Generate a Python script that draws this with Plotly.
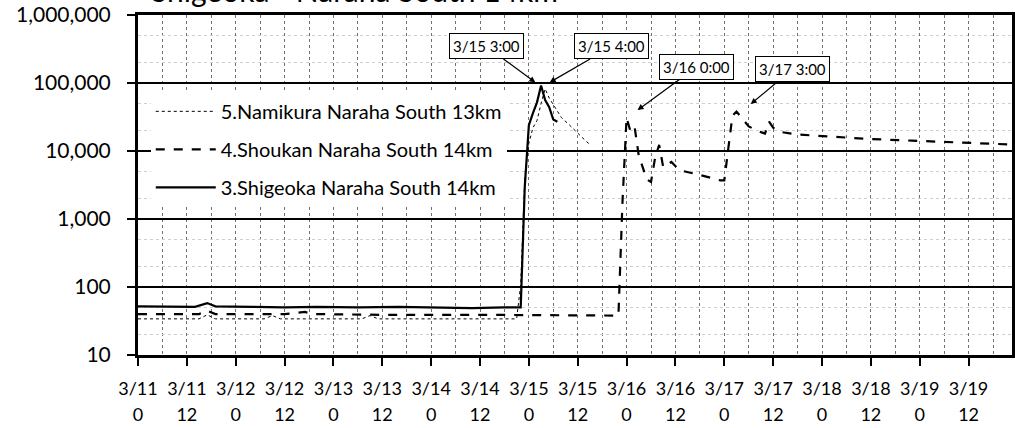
import math
import plotly.graph_objects as go
import pandas as pd

# ---------------- data ----------------
shigeoka_t = ["2011-03-11 00:00", "2011-03-11 08:00", "2011-03-11 14:00", "2011-03-11 17:00",
              "2011-03-11 19:00", "2011-03-12 04:00", "2011-03-12 12:00", "2011-03-12 20:00",
              "2011-03-13 06:00", "2011-03-13 16:00", "2011-03-14 02:00", "2011-03-14 10:00",
              "2011-03-14 18:00", "2011-03-14 22:00", "2011-03-14 23:00", "2011-03-15 00:00",
              "2011-03-15 01:00", "2011-03-15 02:00", "2011-03-15 03:00", "2011-03-15 04:00",
              "2011-03-15 05:00", "2011-03-15 06:00", "2011-03-15 07:00"]
shigeoka_v = [52, 51, 51, 58, 52, 51, 50, 51, 50, 51, 50, 49, 50, 50, 3000, 24000,
              36000, 52000, 92000, 56000, 44000, 29000, 27000]

namikura_t = ["2011-03-11 00:00", "2011-03-11 15:00", "2011-03-11 17:00", "2011-03-11 19:00",
              "2011-03-12 07:00", "2011-03-12 09:00", "2011-03-12 11:00", "2011-03-13 07:00",
              "2011-03-13 09:00", "2011-03-13 11:00", "2011-03-14 21:00", "2011-03-14 22:00",
              "2011-03-14 23:00", "2011-03-15 00:00", "2011-03-15 01:00", "2011-03-15 02:00",
              "2011-03-15 03:00", "2011-03-15 04:00", "2011-03-15 05:00", "2011-03-15 06:00",
              "2011-03-15 07:00", "2011-03-15 08:00", "2011-03-15 10:00", "2011-03-15 12:00",
              "2011-03-15 14:00", "2011-03-15 15:00"]
namikura_v = [34, 34, 39, 34, 34, 38, 34, 34, 38, 34, 34, 110, 4000, 13000, 22000, 28000,
              50000, 82000, 60000, 48000, 38000, 31000, 24000, 18000, 14000, 12500]

shoukan_t = ["2011-03-11 00:00", "2011-03-11 15:00", "2011-03-11 17:00", "2011-03-11 19:00",
             "2011-03-12 12:00", "2011-03-12 17:00", "2011-03-12 19:00", "2011-03-13 12:00",
             "2011-03-14 12:00", "2011-03-15 12:00", "2011-03-15 22:00", "2011-03-15 23:00",
             "2011-03-16 00:00", "2011-03-16 01:00", "2011-03-16 02:00", "2011-03-16 03:00",
             "2011-03-16 04:00", "2011-03-16 05:00", "2011-03-16 06:00", "2011-03-16 07:00",
             "2011-03-16 08:00", "2011-03-16 09:00", "2011-03-16 11:00", "2011-03-16 13:00",
             "2011-03-16 18:00", "2011-03-16 23:00", "2011-03-17 00:00", "2011-03-17 01:00",
             "2011-03-17 02:00", "2011-03-17 03:00", "2011-03-17 05:00", "2011-03-17 06:00",
             "2011-03-17 08:00", "2011-03-17 10:00", "2011-03-17 11:00", "2011-03-17 12:00",
             "2011-03-17 14:00", "2011-03-17 18:00", "2011-03-18 02:00", "2011-03-18 12:00",
             "2011-03-18 22:00", "2011-03-19 08:00", "2011-03-19 16:00", "2011-03-19 22:00"]
shoukan_v = [40, 40, 45, 40, 40, 43, 40, 39, 39, 38, 38, 1800,
             31000, 19000, 22000, 8500, 5500, 3800, 3500, 7900, 12300, 5800, 6900, 5200,
             4450, 3700, 3700, 10500, 33000, 38000, 27000, 23000, 20000, 18000, 27000, 22000,
             19000, 17500, 16300, 15000, 14200, 13600, 13000, 12500]

tick_times = pd.date_range("2011-03-11 00:00", "2011-03-19 12:00", freq="12h")
tick_dates = [f"3/{t.day}" for t in tick_times]
tick_hours = [f"{t.hour}" for t in tick_times]

y_tickvals = [10, 100, 1000, 10000, 100000, 1000000]
y_ticktext = ["10", "100", "1,000", "10,000", "100,000", "1,000,000"]

callouts = [  # label, arrow-tip time, arrow-tip value, ax, ay
    ("3/15 3:00", "2011-03-15 01:36", 102000, -49, -36),
    ("3/15 4:00", "2011-03-15 05:06", 102000, 62, -36),
    ("3/16 0:00", "2011-03-16 02:42", 40000, 59, -43),
    ("3/17 3:00", "2011-03-17 06:30", 49000, 42, -35),
]

FONT = "Lato, 'Open Sans', sans-serif"
X_RANGE = ["2011-03-11 00:00", "2011-03-19 22:40"]
GRID = "#707070"

fig = go.Figure()
fig.add_trace(go.Scatter(x=namikura_t, y=namikura_v, mode="lines",
                         name="5.Namikura Naraha South 13km", legendgroup="a",
                         line=dict(color="black", width=1, dash="dot")))
fig.add_trace(go.Scatter(x=shoukan_t, y=shoukan_v, mode="lines",
                         name="4.Shoukan Naraha South 14km", legendgroup="b",
                         line=dict(color="black", width=2.2, dash="dash")))
fig.add_trace(go.Scatter(x=shigeoka_t, y=shigeoka_v, mode="lines",
                         name="3.Shigeoka Naraha South 14km", legendgroup="c",
                         line=dict(color="black", width=2.2)))
# invisible helper trace so the second (hour-label) x axis is rendered
fig.add_trace(go.Scatter(x=[tick_times[0]], y=[y_tickvals[0]], xaxis="x2", mode="lines",
                         showlegend=False, hoverinfo="skip", line=dict(width=0)))

annotations = []
for label, t, v, ax, ay in callouts:
    annotations.append(dict(
        x=t, y=math.log10(v), xref="x", yref="y", text=label, showarrow=True,
        ax=ax, ay=ay, arrowhead=2, arrowsize=1, arrowwidth=1.2, arrowcolor="black",
        bgcolor="white", bordercolor="black", borderwidth=1, borderpad=3,
        font=dict(family=FONT, size=15, color="black")))

annotations.append(dict(
    text="Shigeoka - Naraha South 14km", xref="paper", yref="paper",
    x=0.248, y=1.015, xanchor="center", yanchor="bottom", showarrow=False,
    font=dict(family=FONT, size=30, color="black")))

fig.update_layout(
    width=1015, height=428,
    margin=dict(l=138, r=3, t=15, b=73),
    paper_bgcolor="white", plot_bgcolor="white",
    font=dict(family=FONT, color="black"),
    showlegend=True,
    legend=dict(x=0.0146, y=0.774, xanchor="left", yanchor="top",
                bgcolor="white", font=dict(family=FONT, size=20, color="black"),
                traceorder="grouped", tracegroupgap=9, itemwidth=60),
    annotations=annotations,
    xaxis=dict(
        range=X_RANGE, automargin=False,
        tickmode="array", tickvals=tick_times, ticktext=tick_dates,
        ticks="outside", ticklen=8, tickcolor="black", tickwidth=1.5,
        tickfont=dict(family=FONT, size=18, color="black"),
        ticklabelstandoff=7,
        showgrid=True, gridcolor=GRID, griddash="dot", gridwidth=1,
        minor=dict(tickmode="linear", tick0="2011-03-11 06:00", dtick=12 * 3600 * 1000,
                   showgrid=True, gridcolor=GRID, griddash="dot", gridwidth=1),
        showline=True, linecolor="black", linewidth=3, mirror=True,
        zeroline=False,
    ),
    xaxis2=dict(
        range=X_RANGE, automargin=False, overlaying="x", anchor="y", side="bottom",
        tickmode="array", tickvals=tick_times, ticktext=tick_hours,
        ticks="", tickfont=dict(family=FONT, size=18, color="black"),
        ticklabelstandoff=47, showgrid=False, showline=False, zeroline=False,
    ),
    yaxis=dict(
        type="log", range=[1, 6], automargin=False,
        tickmode="array", tickvals=y_tickvals, ticktext=y_ticktext,
        ticks="outside", ticklen=8, tickcolor="black", tickwidth=1.5,
        tickfont=dict(family=FONT, size=21, color="black"),
        ticklabelstandoff=12,
        showgrid=True, gridcolor="black", gridwidth=2,
        minor=dict(dtick="D2", showgrid=True, gridcolor="#cfcfcf", griddash="dot", gridwidth=1),
        showline=True, linecolor="black", linewidth=3, mirror=True,
        zeroline=False,
    ),
)

fig.write_html("out.html", config={"displayModeBar": False},
               post_script="document.body.style.margin='0px';")
